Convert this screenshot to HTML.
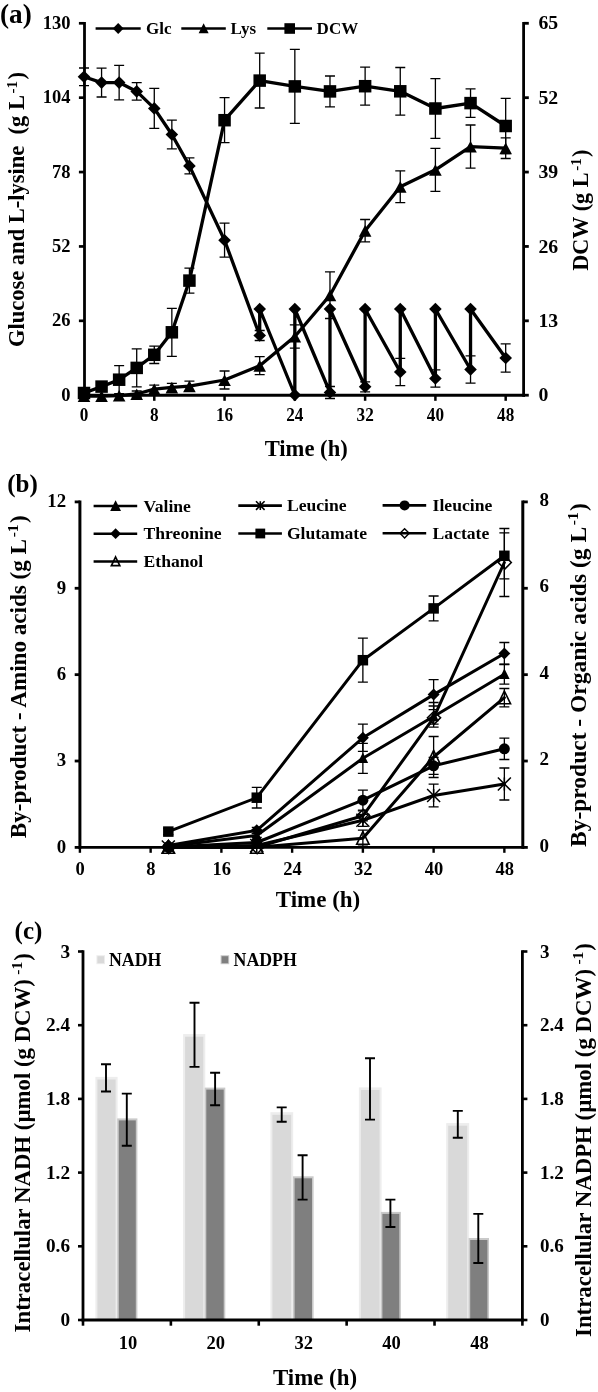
<!DOCTYPE html>
<html><head><meta charset="utf-8"><title>Figure</title>
<style>html,body{margin:0;padding:0;background:#fff;}svg{display:block;will-change:transform;}text{font-family:"Liberation Serif",serif;font-weight:bold;fill:#000;}</style>
</head><body>
<svg width="598" height="1392" viewBox="0 0 598 1392">
<rect width="598" height="1392" fill="#fff"/>
<g id="panelA">
<path d="M84.00 68.00V85.60M79.00 68.00H89.00M79.00 85.60H89.00" stroke="#000" stroke-width="1.3" fill="none"/>
<path d="M101.57 68.20V97.00M96.57 68.20H106.57M96.57 97.00H106.57" stroke="#000" stroke-width="1.3" fill="none"/>
<path d="M119.14 65.30V99.90M114.14 65.30H124.14M114.14 99.90H124.14" stroke="#000" stroke-width="1.3" fill="none"/>
<path d="M136.71 82.60V100.20M131.71 82.60H141.71M131.71 100.20H141.71" stroke="#000" stroke-width="1.3" fill="none"/>
<path d="M154.28 88.40V128.40M149.28 88.40H159.28M149.28 128.40H159.28" stroke="#000" stroke-width="1.3" fill="none"/>
<path d="M171.85 120.10V148.90M166.85 120.10H176.85M166.85 148.90H176.85" stroke="#000" stroke-width="1.3" fill="none"/>
<path d="M189.42 157.90V173.90M184.42 157.90H194.42M184.42 173.90H194.42" stroke="#000" stroke-width="1.3" fill="none"/>
<path d="M224.56 223.20V257.20M219.56 223.20H229.56M219.56 257.20H229.56" stroke="#000" stroke-width="1.3" fill="none"/>
<path d="M259.70 330.50V340.50M254.70 330.50H264.70M254.70 340.50H264.70" stroke="#000" stroke-width="1.3" fill="none"/>
<path d="M329.98 386.50V398.50M324.98 386.50H334.98M324.98 398.50H334.98" stroke="#000" stroke-width="1.3" fill="none"/>
<path d="M365.12 381.80V391.80M360.12 381.80H370.12M360.12 391.80H370.12" stroke="#000" stroke-width="1.3" fill="none"/>
<path d="M400.26 358.30V385.70M395.26 358.30H405.26M395.26 385.70H405.26" stroke="#000" stroke-width="1.3" fill="none"/>
<path d="M435.40 369.80V387.20M430.40 369.80H440.40M430.40 387.20H440.40" stroke="#000" stroke-width="1.3" fill="none"/>
<path d="M470.54 355.80V383.20M465.54 355.80H475.54M465.54 383.20H475.54" stroke="#000" stroke-width="1.3" fill="none"/>
<path d="M505.68 343.80V372.20M500.68 343.80H510.68M500.68 372.20H510.68" stroke="#000" stroke-width="1.3" fill="none"/>
<path d="M101.57 382.60V390.60M96.57 382.60H106.57M96.57 390.60H106.57" stroke="#000" stroke-width="1.3" fill="none"/>
<path d="M119.14 365.70V393.70M114.14 365.70H124.14M114.14 393.70H124.14" stroke="#000" stroke-width="1.3" fill="none"/>
<path d="M136.71 348.90V386.90M131.71 348.90H141.71M131.71 386.90H141.71" stroke="#000" stroke-width="1.3" fill="none"/>
<path d="M154.28 346.10V363.50M149.28 346.10H159.28M149.28 363.50H159.28" stroke="#000" stroke-width="1.3" fill="none"/>
<path d="M171.85 308.30V356.30M166.85 308.30H176.85M166.85 356.30H176.85" stroke="#000" stroke-width="1.3" fill="none"/>
<path d="M189.42 268.10V293.10M184.42 268.10H194.42M184.42 293.10H194.42" stroke="#000" stroke-width="1.3" fill="none"/>
<path d="M224.56 97.70V142.70M219.56 97.70H229.56M219.56 142.70H229.56" stroke="#000" stroke-width="1.3" fill="none"/>
<path d="M259.70 53.20V108.00M254.70 53.20H264.70M254.70 108.00H264.70" stroke="#000" stroke-width="1.3" fill="none"/>
<path d="M294.84 49.40V123.40M289.84 49.40H299.84M289.84 123.40H299.84" stroke="#000" stroke-width="1.3" fill="none"/>
<path d="M329.98 76.00V106.80M324.98 76.00H334.98M324.98 106.80H334.98" stroke="#000" stroke-width="1.3" fill="none"/>
<path d="M365.12 67.20V105.20M360.12 67.20H370.12M360.12 105.20H370.12" stroke="#000" stroke-width="1.3" fill="none"/>
<path d="M400.26 67.50V115.10M395.26 67.50H405.26M395.26 115.10H405.26" stroke="#000" stroke-width="1.3" fill="none"/>
<path d="M435.40 78.60V138.40M430.40 78.60H440.40M430.40 138.40H440.40" stroke="#000" stroke-width="1.3" fill="none"/>
<path d="M470.54 88.80V117.40M465.54 88.80H475.54M465.54 117.40H475.54" stroke="#000" stroke-width="1.3" fill="none"/>
<path d="M505.68 98.40V153.60M500.68 98.40H510.68M500.68 153.60H510.68" stroke="#000" stroke-width="1.3" fill="none"/>
<path d="M136.71 391.00V397.00M131.71 391.00H141.71M131.71 397.00H141.71" stroke="#000" stroke-width="1.3" fill="none"/>
<path d="M154.28 385.20V393.20M149.28 385.20H159.28M149.28 393.20H159.28" stroke="#000" stroke-width="1.3" fill="none"/>
<path d="M171.85 383.40V391.40M166.85 383.40H176.85M166.85 391.40H176.85" stroke="#000" stroke-width="1.3" fill="none"/>
<path d="M189.42 381.20V391.20M184.42 381.20H194.42M184.42 391.20H194.42" stroke="#000" stroke-width="1.3" fill="none"/>
<path d="M224.56 371.00V389.00M219.56 371.00H229.56M219.56 389.00H229.56" stroke="#000" stroke-width="1.3" fill="none"/>
<path d="M259.70 356.70V374.70M254.70 356.70H264.70M254.70 374.70H264.70" stroke="#000" stroke-width="1.3" fill="none"/>
<path d="M294.84 324.90V348.10M289.84 324.90H299.84M289.84 348.10H299.84" stroke="#000" stroke-width="1.3" fill="none"/>
<path d="M329.98 271.90V318.50M324.98 271.90H334.98M324.98 318.50H334.98" stroke="#000" stroke-width="1.3" fill="none"/>
<path d="M365.12 219.50V241.90M360.12 219.50H370.12M360.12 241.90H370.12" stroke="#000" stroke-width="1.3" fill="none"/>
<path d="M400.26 170.80V202.60M395.26 170.80H405.26M395.26 202.60H405.26" stroke="#000" stroke-width="1.3" fill="none"/>
<path d="M435.40 148.30V191.30M430.40 148.30H440.40M430.40 191.30H440.40" stroke="#000" stroke-width="1.3" fill="none"/>
<path d="M470.54 125.00V168.20M465.54 125.00H475.54M465.54 168.20H475.54" stroke="#000" stroke-width="1.3" fill="none"/>
<path d="M505.68 137.90V158.50M500.68 137.90H510.68M500.68 158.50H510.68" stroke="#000" stroke-width="1.3" fill="none"/>
<polyline points="84.00,76.80 101.57,82.60 119.14,82.60 136.71,91.40 154.28,108.40 171.85,134.50 189.42,165.90 224.56,240.20 259.70,335.50 259.70,309.00 294.84,395.00 294.84,309.00 329.98,392.50 329.98,309.00 365.12,386.80 365.12,309.00 400.26,372.00 400.26,309.00 435.40,378.50 435.40,309.00 470.54,369.50 470.54,309.00 505.68,358.00" fill="none" stroke="#000" stroke-width="3.3" stroke-linejoin="round" stroke-linecap="round"/>
<polyline points="84.00,393.00 101.57,386.60 119.14,379.70 136.71,367.90 154.28,354.80 171.85,332.30 189.42,280.60 224.56,120.20 259.70,80.60 294.84,86.40 329.98,91.40 365.12,86.20 400.26,91.30 435.40,108.50 470.54,103.10 505.68,126.00" fill="none" stroke="#000" stroke-width="3.3" stroke-linejoin="round" stroke-linecap="round"/>
<polyline points="84.00,396.00 101.57,396.00 119.14,395.60 136.71,394.00 154.28,389.20 171.85,387.40 189.42,386.20 224.56,380.00 259.70,365.70 294.84,336.50 329.98,295.20 365.12,230.70 400.26,186.70 435.40,169.80 470.54,146.60 505.68,148.20" fill="none" stroke="#000" stroke-width="3.3" stroke-linejoin="round" stroke-linecap="round"/>
<path d="M84.00 70.50L90.30 76.80L84.00 83.10L77.70 76.80Z" fill="#000"/>
<path d="M101.57 76.30L107.87 82.60L101.57 88.90L95.27 82.60Z" fill="#000"/>
<path d="M119.14 76.30L125.44 82.60L119.14 88.90L112.84 82.60Z" fill="#000"/>
<path d="M136.71 85.10L143.01 91.40L136.71 97.70L130.41 91.40Z" fill="#000"/>
<path d="M154.28 102.10L160.58 108.40L154.28 114.70L147.98 108.40Z" fill="#000"/>
<path d="M171.85 128.20L178.15 134.50L171.85 140.80L165.55 134.50Z" fill="#000"/>
<path d="M189.42 159.60L195.72 165.90L189.42 172.20L183.12 165.90Z" fill="#000"/>
<path d="M224.56 233.90L230.86 240.20L224.56 246.50L218.26 240.20Z" fill="#000"/>
<path d="M259.70 329.20L266.00 335.50L259.70 341.80L253.40 335.50Z" fill="#000"/>
<path d="M259.70 302.70L266.00 309.00L259.70 315.30L253.40 309.00Z" fill="#000"/>
<path d="M294.84 388.70L301.14 395.00L294.84 401.30L288.54 395.00Z" fill="#000"/>
<path d="M294.84 302.70L301.14 309.00L294.84 315.30L288.54 309.00Z" fill="#000"/>
<path d="M329.98 386.20L336.28 392.50L329.98 398.80L323.68 392.50Z" fill="#000"/>
<path d="M329.98 302.70L336.28 309.00L329.98 315.30L323.68 309.00Z" fill="#000"/>
<path d="M365.12 380.50L371.42 386.80L365.12 393.10L358.82 386.80Z" fill="#000"/>
<path d="M365.12 302.70L371.42 309.00L365.12 315.30L358.82 309.00Z" fill="#000"/>
<path d="M400.26 365.70L406.56 372.00L400.26 378.30L393.96 372.00Z" fill="#000"/>
<path d="M400.26 302.70L406.56 309.00L400.26 315.30L393.96 309.00Z" fill="#000"/>
<path d="M435.40 372.20L441.70 378.50L435.40 384.80L429.10 378.50Z" fill="#000"/>
<path d="M435.40 302.70L441.70 309.00L435.40 315.30L429.10 309.00Z" fill="#000"/>
<path d="M470.54 363.20L476.84 369.50L470.54 375.80L464.24 369.50Z" fill="#000"/>
<path d="M470.54 302.70L476.84 309.00L470.54 315.30L464.24 309.00Z" fill="#000"/>
<path d="M505.68 351.70L511.98 358.00L505.68 364.30L499.38 358.00Z" fill="#000"/>
<rect x="77.75" y="386.75" width="12.5" height="12.5" fill="#000"/>
<rect x="95.32" y="380.35" width="12.5" height="12.5" fill="#000"/>
<rect x="112.89" y="373.45" width="12.5" height="12.5" fill="#000"/>
<rect x="130.46" y="361.65" width="12.5" height="12.5" fill="#000"/>
<rect x="148.03" y="348.55" width="12.5" height="12.5" fill="#000"/>
<rect x="165.60" y="326.05" width="12.5" height="12.5" fill="#000"/>
<rect x="183.17" y="274.35" width="12.5" height="12.5" fill="#000"/>
<rect x="218.31" y="113.95" width="12.5" height="12.5" fill="#000"/>
<rect x="253.45" y="74.35" width="12.5" height="12.5" fill="#000"/>
<rect x="288.59" y="80.15" width="12.5" height="12.5" fill="#000"/>
<rect x="323.73" y="85.15" width="12.5" height="12.5" fill="#000"/>
<rect x="358.87" y="79.95" width="12.5" height="12.5" fill="#000"/>
<rect x="394.01" y="85.05" width="12.5" height="12.5" fill="#000"/>
<rect x="429.15" y="102.25" width="12.5" height="12.5" fill="#000"/>
<rect x="464.29" y="96.85" width="12.5" height="12.5" fill="#000"/>
<rect x="499.43" y="119.75" width="12.5" height="12.5" fill="#000"/>
<path d="M84.00 390.40L90.30 402.00L77.70 402.00Z" fill="#000"/>
<path d="M101.57 390.40L107.87 402.00L95.27 402.00Z" fill="#000"/>
<path d="M119.14 390.00L125.44 401.60L112.84 401.60Z" fill="#000"/>
<path d="M136.71 388.40L143.01 400.00L130.41 400.00Z" fill="#000"/>
<path d="M154.28 383.60L160.58 395.20L147.98 395.20Z" fill="#000"/>
<path d="M171.85 381.80L178.15 393.40L165.55 393.40Z" fill="#000"/>
<path d="M189.42 380.60L195.72 392.20L183.12 392.20Z" fill="#000"/>
<path d="M224.56 374.40L230.86 386.00L218.26 386.00Z" fill="#000"/>
<path d="M259.70 360.10L266.00 371.70L253.40 371.70Z" fill="#000"/>
<path d="M294.84 330.90L301.14 342.50L288.54 342.50Z" fill="#000"/>
<path d="M329.98 289.60L336.28 301.20L323.68 301.20Z" fill="#000"/>
<path d="M365.12 225.10L371.42 236.70L358.82 236.70Z" fill="#000"/>
<path d="M400.26 181.10L406.56 192.70L393.96 192.70Z" fill="#000"/>
<path d="M435.40 164.20L441.70 175.80L429.10 175.80Z" fill="#000"/>
<path d="M470.54 141.00L476.84 152.60L464.24 152.60Z" fill="#000"/>
<path d="M505.68 142.60L511.98 154.20L499.38 154.20Z" fill="#000"/>
<line x1="84.50" y1="22.05" x2="84.50" y2="396.70" stroke="#000" stroke-width="2.8" stroke-linecap="butt"/>
<line x1="523.60" y1="22.05" x2="523.60" y2="396.70" stroke="#000" stroke-width="2.8" stroke-linecap="butt"/>
<line x1="83.10" y1="395.20" x2="525.00" y2="395.20" stroke="#000" stroke-width="3" stroke-linecap="butt"/>
<line x1="78.90" y1="23.30" x2="84.50" y2="23.30" stroke="#000" stroke-width="2.7" stroke-linecap="butt"/>
<line x1="523.60" y1="23.30" x2="528.80" y2="23.30" stroke="#000" stroke-width="2.8" stroke-linecap="butt"/>
<text transform="translate(70.60 28.90) scale(1.0 1)" font-size="18.5" text-anchor="end">130</text>
<text transform="translate(538.40 29.40) scale(1.07 1)" font-size="18.5" text-anchor="start">65</text>
<line x1="78.90" y1="97.68" x2="84.50" y2="97.68" stroke="#000" stroke-width="2.7" stroke-linecap="butt"/>
<line x1="523.60" y1="97.68" x2="528.80" y2="97.68" stroke="#000" stroke-width="2.8" stroke-linecap="butt"/>
<text transform="translate(70.60 103.28) scale(1.0 1)" font-size="18.5" text-anchor="end">104</text>
<text transform="translate(538.40 103.78) scale(1.07 1)" font-size="18.5" text-anchor="start">52</text>
<line x1="78.90" y1="172.06" x2="84.50" y2="172.06" stroke="#000" stroke-width="2.7" stroke-linecap="butt"/>
<line x1="523.60" y1="172.06" x2="528.80" y2="172.06" stroke="#000" stroke-width="2.8" stroke-linecap="butt"/>
<text transform="translate(70.60 177.66) scale(1.0 1)" font-size="18.5" text-anchor="end">78</text>
<text transform="translate(538.40 178.16) scale(1.07 1)" font-size="18.5" text-anchor="start">39</text>
<line x1="78.90" y1="246.44" x2="84.50" y2="246.44" stroke="#000" stroke-width="2.7" stroke-linecap="butt"/>
<line x1="523.60" y1="246.44" x2="528.80" y2="246.44" stroke="#000" stroke-width="2.8" stroke-linecap="butt"/>
<text transform="translate(70.60 252.04) scale(1.0 1)" font-size="18.5" text-anchor="end">52</text>
<text transform="translate(538.40 252.54) scale(1.07 1)" font-size="18.5" text-anchor="start">26</text>
<line x1="78.90" y1="320.82" x2="84.50" y2="320.82" stroke="#000" stroke-width="2.7" stroke-linecap="butt"/>
<line x1="523.60" y1="320.82" x2="528.80" y2="320.82" stroke="#000" stroke-width="2.8" stroke-linecap="butt"/>
<text transform="translate(70.60 326.42) scale(1.0 1)" font-size="18.5" text-anchor="end">26</text>
<text transform="translate(538.40 326.92) scale(1.07 1)" font-size="18.5" text-anchor="start">13</text>
<line x1="78.90" y1="395.20" x2="84.50" y2="395.20" stroke="#000" stroke-width="2.7" stroke-linecap="butt"/>
<line x1="523.60" y1="395.20" x2="528.80" y2="395.20" stroke="#000" stroke-width="2.8" stroke-linecap="butt"/>
<text transform="translate(70.60 400.80) scale(1.0 1)" font-size="18.5" text-anchor="end">0</text>
<text transform="translate(538.40 401.30) scale(1.07 1)" font-size="18.5" text-anchor="start">0</text>
<line x1="84.00" y1="395.20" x2="84.00" y2="400.80" stroke="#000" stroke-width="2.5" stroke-linecap="butt"/>
<text transform="translate(84.00 421.30) scale(0.93 1)" font-size="18.5" text-anchor="middle">0</text>
<line x1="154.28" y1="395.20" x2="154.28" y2="400.80" stroke="#000" stroke-width="2.5" stroke-linecap="butt"/>
<text transform="translate(154.28 421.30) scale(0.93 1)" font-size="18.5" text-anchor="middle">8</text>
<line x1="224.56" y1="395.20" x2="224.56" y2="400.80" stroke="#000" stroke-width="2.5" stroke-linecap="butt"/>
<text transform="translate(224.56 421.30) scale(0.93 1)" font-size="18.5" text-anchor="middle">16</text>
<line x1="294.84" y1="395.20" x2="294.84" y2="400.80" stroke="#000" stroke-width="2.5" stroke-linecap="butt"/>
<text transform="translate(294.84 421.30) scale(0.93 1)" font-size="18.5" text-anchor="middle">24</text>
<line x1="365.12" y1="395.20" x2="365.12" y2="400.80" stroke="#000" stroke-width="2.5" stroke-linecap="butt"/>
<text transform="translate(365.12 421.30) scale(0.93 1)" font-size="18.5" text-anchor="middle">32</text>
<line x1="435.40" y1="395.20" x2="435.40" y2="400.80" stroke="#000" stroke-width="2.5" stroke-linecap="butt"/>
<text transform="translate(435.40 421.30) scale(0.93 1)" font-size="18.5" text-anchor="middle">40</text>
<line x1="505.68" y1="395.20" x2="505.68" y2="400.80" stroke="#000" stroke-width="2.5" stroke-linecap="butt"/>
<text transform="translate(505.68 421.30) scale(0.93 1)" font-size="18.5" text-anchor="middle">48</text>
<text transform="translate(306.20 456.20) scale(1.0 1)" font-size="22.6" text-anchor="middle">Time (h)</text>
<text transform="translate(24.40 347.00) rotate(-90) scale(1.0 1)" font-size="22.5" text-anchor="start">Glucose and L-lysine&#160;&#160;(g L<tspan font-size="15" dx="1.7" dy="-7.5">-1</tspan><tspan dx="1.3" dy="7.5">)</tspan></text>
<text transform="translate(588.20 270.70) rotate(-90) scale(1.0 1)" font-size="22.2" text-anchor="start">DCW (g L<tspan font-size="15" dx="1.7" dy="-7.5">-1</tspan><tspan dx="1.3" dy="7.5">)</tspan></text>
<text transform="translate(0.00 23.40) scale(1.0 1)" font-size="27.2" text-anchor="start">(a)</text>
<line x1="95.60" y1="28.50" x2="140.70" y2="28.50" stroke="#000" stroke-width="2.4" stroke-linecap="butt"/>
<path d="M118.20 23.10L123.60 28.50L118.20 33.90L112.80 28.50Z" fill="#000"/>
<text transform="translate(146.00 33.70) scale(1.0 1)" font-size="17" text-anchor="start">Glc</text>
<line x1="181.30" y1="28.50" x2="225.80" y2="28.50" stroke="#000" stroke-width="2.4" stroke-linecap="butt"/>
<path d="M203.60 23.20L208.60 33.20L198.60 33.20Z" fill="#000"/>
<text transform="translate(230.50 33.70) scale(1.0 1)" font-size="17" text-anchor="start">Lys</text>
<line x1="267.30" y1="28.50" x2="312.00" y2="28.50" stroke="#000" stroke-width="2.4" stroke-linecap="butt"/>
<rect x="284.40" y="23.20" width="10.6" height="10.6" fill="#000"/>
<text transform="translate(316.60 33.70) scale(1.0 1)" font-size="17" text-anchor="start">DCW</text>
</g>
<g id="panelB">
<path d="M168.33 828.60V834.60M163.33 828.60H173.33M163.33 834.60H173.33" stroke="#000" stroke-width="1.3" fill="none"/>
<path d="M256.76 787.40V808.00M251.76 787.40H261.76M251.76 808.00H261.76" stroke="#000" stroke-width="1.3" fill="none"/>
<path d="M362.88 638.20V682.20M357.88 638.20H367.88M357.88 682.20H367.88" stroke="#000" stroke-width="1.3" fill="none"/>
<path d="M433.62 596.00V620.80M428.62 596.00H438.62M428.62 620.80H438.62" stroke="#000" stroke-width="1.3" fill="none"/>
<path d="M504.36 532.80V578.80M499.36 532.80H509.36M499.36 578.80H509.36" stroke="#000" stroke-width="1.3" fill="none"/>
<path d="M256.76 827.30V833.30M251.76 827.30H261.76M251.76 833.30H261.76" stroke="#000" stroke-width="1.3" fill="none"/>
<path d="M362.88 724.20V751.40M357.88 724.20H367.88M357.88 751.40H367.88" stroke="#000" stroke-width="1.3" fill="none"/>
<path d="M433.62 679.60V709.60M428.62 679.60H438.62M428.62 709.60H438.62" stroke="#000" stroke-width="1.3" fill="none"/>
<path d="M504.36 642.50V664.50M499.36 642.50H509.36M499.36 664.50H509.36" stroke="#000" stroke-width="1.3" fill="none"/>
<path d="M256.76 833.50V837.50M251.76 833.50H261.76M251.76 837.50H261.76" stroke="#000" stroke-width="1.3" fill="none"/>
<path d="M362.88 743.30V773.30M357.88 743.30H367.88M357.88 773.30H367.88" stroke="#000" stroke-width="1.3" fill="none"/>
<path d="M504.36 664.20V684.20M499.36 664.20H509.36M499.36 684.20H509.36" stroke="#000" stroke-width="1.3" fill="none"/>
<path d="M362.88 790.20V810.20M357.88 790.20H367.88M357.88 810.20H367.88" stroke="#000" stroke-width="1.3" fill="none"/>
<path d="M433.62 757.30V774.30M428.62 757.30H438.62M428.62 774.30H438.62" stroke="#000" stroke-width="1.3" fill="none"/>
<path d="M504.36 738.10V759.50M499.36 738.10H509.36M499.36 759.50H509.36" stroke="#000" stroke-width="1.3" fill="none"/>
<path d="M362.88 814.30V826.30M357.88 814.30H367.88M357.88 826.30H367.88" stroke="#000" stroke-width="1.3" fill="none"/>
<path d="M433.62 784.10V806.90M428.62 784.10H438.62M428.62 806.90H438.62" stroke="#000" stroke-width="1.3" fill="none"/>
<path d="M504.36 768.00V800.00M499.36 768.00H509.36M499.36 800.00H509.36" stroke="#000" stroke-width="1.3" fill="none"/>
<path d="M362.88 810.80V820.80M357.88 810.80H367.88M357.88 820.80H367.88" stroke="#000" stroke-width="1.3" fill="none"/>
<path d="M504.36 528.50V596.50M499.36 528.50H509.36M499.36 596.50H509.36" stroke="#000" stroke-width="1.3" fill="none"/>
<path d="M362.88 830.20V846.20M357.88 830.20H367.88M357.88 846.20H367.88" stroke="#000" stroke-width="1.3" fill="none"/>
<path d="M433.62 736.50V777.50M428.62 736.50H438.62M428.62 777.50H438.62" stroke="#000" stroke-width="1.3" fill="none"/>
<path d="M504.36 688.50V706.90M499.36 688.50H509.36M499.36 706.90H509.36" stroke="#000" stroke-width="1.3" fill="none"/>
<path d="M433.62 706.00V724.10M428.62 706.00H438.62M428.62 724.10H438.62" stroke="#000" stroke-width="1.3" fill="none"/>
<path d="M433.62 702.50V727.10M428.62 702.50H438.62M428.62 727.10H438.62" stroke="#000" stroke-width="1.3" fill="none"/>
<polyline points="168.33,831.60 256.76,797.70 362.88,660.20 433.62,608.40 504.36,555.80" fill="none" stroke="#000" stroke-width="3.0" stroke-linejoin="round" stroke-linecap="round"/>
<polyline points="168.33,845.50 256.76,830.30 362.88,737.80 433.62,694.60 504.36,653.50" fill="none" stroke="#000" stroke-width="3.0" stroke-linejoin="round" stroke-linecap="round"/>
<polyline points="168.33,846.50 256.76,835.50 362.88,758.30 433.62,716.50 504.36,674.20" fill="none" stroke="#000" stroke-width="3.0" stroke-linejoin="round" stroke-linecap="round"/>
<polyline points="168.33,847.00 256.76,842.50 362.88,800.20 433.62,765.80 504.36,748.80" fill="none" stroke="#000" stroke-width="3.0" stroke-linejoin="round" stroke-linecap="round"/>
<polyline points="168.33,847.00 256.76,845.50 362.88,820.30 433.62,795.50 504.36,784.00" fill="none" stroke="#000" stroke-width="3.0" stroke-linejoin="round" stroke-linecap="round"/>
<polyline points="168.33,847.20 256.76,847.20 362.88,815.80 433.62,717.80 504.36,562.50" fill="none" stroke="#000" stroke-width="3.0" stroke-linejoin="round" stroke-linecap="round"/>
<polyline points="168.33,847.20 256.76,847.20 362.88,838.20 433.62,757.00 504.36,697.70" fill="none" stroke="#000" stroke-width="3.0" stroke-linejoin="round" stroke-linecap="round"/>
<path d="M161.83 840.50L174.83 853.50M161.83 853.50L174.83 840.50M168.33 840.50V853.50" stroke="#000" stroke-width="1.5" fill="none"/>
<path d="M250.26 839.00L263.26 852.00M250.26 852.00L263.26 839.00M256.76 839.00V852.00" stroke="#000" stroke-width="1.5" fill="none"/>
<path d="M356.38 813.80L369.38 826.80M356.38 826.80L369.38 813.80M362.88 813.80V826.80" stroke="#000" stroke-width="1.5" fill="none"/>
<path d="M427.12 789.00L440.12 802.00M427.12 802.00L440.12 789.00M433.62 789.00V802.00" stroke="#000" stroke-width="1.5" fill="none"/>
<path d="M497.86 777.50L510.86 790.50M497.86 790.50L510.86 777.50M504.36 777.50V790.50" stroke="#000" stroke-width="1.5" fill="none"/>
<circle cx="168.33" cy="847.00" r="5.5" fill="#000"/>
<circle cx="256.76" cy="842.50" r="5.5" fill="#000"/>
<circle cx="362.88" cy="800.20" r="5.5" fill="#000"/>
<circle cx="433.62" cy="765.80" r="5.5" fill="#000"/>
<circle cx="504.36" cy="748.80" r="5.5" fill="#000"/>
<path d="M168.33 840.75L173.58 851.25L163.08 851.25Z" fill="#000"/>
<path d="M256.76 829.75L262.01 840.25L251.51 840.25Z" fill="#000"/>
<path d="M362.88 752.55L368.13 763.05L357.63 763.05Z" fill="#000"/>
<path d="M433.62 710.75L438.87 721.25L428.37 721.25Z" fill="#000"/>
<path d="M504.36 668.45L509.61 678.95L499.11 678.95Z" fill="#000"/>
<path d="M168.33 839.50L174.33 845.50L168.33 851.50L162.33 845.50Z" fill="#000"/>
<path d="M256.76 824.30L262.76 830.30L256.76 836.30L250.76 830.30Z" fill="#000"/>
<path d="M362.88 731.80L368.88 737.80L362.88 743.80L356.88 737.80Z" fill="#000"/>
<path d="M433.62 688.60L439.62 694.60L433.62 700.60L427.62 694.60Z" fill="#000"/>
<path d="M504.36 647.50L510.36 653.50L504.36 659.50L498.36 653.50Z" fill="#000"/>
<rect x="163.08" y="826.35" width="10.5" height="10.5" fill="#000"/>
<rect x="251.51" y="792.45" width="10.5" height="10.5" fill="#000"/>
<rect x="357.63" y="654.95" width="10.5" height="10.5" fill="#000"/>
<rect x="428.37" y="603.15" width="10.5" height="10.5" fill="#000"/>
<rect x="499.11" y="550.55" width="10.5" height="10.5" fill="#000"/>
<path d="M168.73 840.70L175.23 847.20L168.73 853.70L162.23 847.20Z" fill="none" stroke="#000" stroke-width="1.6"/>
<path d="M257.16 840.70L263.66 847.20L257.16 853.70L250.66 847.20Z" fill="none" stroke="#000" stroke-width="1.6"/>
<path d="M363.28 809.30L369.78 815.80L363.28 822.30L356.78 815.80Z" fill="none" stroke="#000" stroke-width="1.6"/>
<path d="M434.02 711.30L440.52 717.80L434.02 724.30L427.52 717.80Z" fill="none" stroke="#000" stroke-width="1.6"/>
<path d="M504.76 556.00L511.26 562.50L504.76 569.00L498.26 562.50Z" fill="none" stroke="#000" stroke-width="1.6"/>
<path d="M168.33 840.50L174.53 853.30L162.13 853.30Z" fill="none" stroke="#000" stroke-width="1.6" stroke-linejoin="miter"/>
<path d="M256.76 840.50L262.96 853.30L250.56 853.30Z" fill="none" stroke="#000" stroke-width="1.6" stroke-linejoin="miter"/>
<path d="M362.88 831.50L369.08 844.30L356.68 844.30Z" fill="none" stroke="#000" stroke-width="1.6" stroke-linejoin="miter"/>
<path d="M433.62 750.30L439.82 763.10L427.42 763.10Z" fill="none" stroke="#000" stroke-width="1.6" stroke-linejoin="miter"/>
<path d="M504.36 691.00L510.56 703.80L498.16 703.80Z" fill="none" stroke="#000" stroke-width="1.6" stroke-linejoin="miter"/>
<line x1="79.90" y1="500.50" x2="79.90" y2="848.70" stroke="#000" stroke-width="3.0" stroke-linecap="butt"/>
<line x1="522.80" y1="500.50" x2="522.80" y2="848.70" stroke="#000" stroke-width="3.0" stroke-linecap="butt"/>
<line x1="78.40" y1="847.40" x2="524.30" y2="847.40" stroke="#000" stroke-width="2.6" stroke-linecap="butt"/>
<line x1="74.70" y1="501.90" x2="79.90" y2="501.90" stroke="#000" stroke-width="2.8" stroke-linecap="butt"/>
<text transform="translate(66.20 507.20) scale(1.02 1)" font-size="18.5" text-anchor="end">12</text>
<line x1="74.70" y1="588.27" x2="79.90" y2="588.27" stroke="#000" stroke-width="2.8" stroke-linecap="butt"/>
<text transform="translate(66.20 593.57) scale(1.02 1)" font-size="18.5" text-anchor="end">9</text>
<line x1="74.70" y1="674.65" x2="79.90" y2="674.65" stroke="#000" stroke-width="2.8" stroke-linecap="butt"/>
<text transform="translate(66.20 679.95) scale(1.02 1)" font-size="18.5" text-anchor="end">6</text>
<line x1="74.70" y1="761.02" x2="79.90" y2="761.02" stroke="#000" stroke-width="2.8" stroke-linecap="butt"/>
<text transform="translate(66.20 766.32) scale(1.02 1)" font-size="18.5" text-anchor="end">3</text>
<line x1="74.70" y1="847.40" x2="79.90" y2="847.40" stroke="#000" stroke-width="2.8" stroke-linecap="butt"/>
<text transform="translate(66.20 852.70) scale(1.02 1)" font-size="18.5" text-anchor="end">0</text>
<line x1="522.80" y1="501.90" x2="527.80" y2="501.90" stroke="#000" stroke-width="2.8" stroke-linecap="butt"/>
<text transform="translate(539.60 506.10) scale(1.03 1)" font-size="18.5" text-anchor="start">8</text>
<line x1="522.80" y1="588.27" x2="527.80" y2="588.27" stroke="#000" stroke-width="2.8" stroke-linecap="butt"/>
<text transform="translate(539.60 592.48) scale(1.03 1)" font-size="18.5" text-anchor="start">6</text>
<line x1="522.80" y1="674.65" x2="527.80" y2="674.65" stroke="#000" stroke-width="2.8" stroke-linecap="butt"/>
<text transform="translate(539.60 678.85) scale(1.03 1)" font-size="18.5" text-anchor="start">4</text>
<line x1="522.80" y1="761.02" x2="527.80" y2="761.02" stroke="#000" stroke-width="2.8" stroke-linecap="butt"/>
<text transform="translate(539.60 765.23) scale(1.03 1)" font-size="18.5" text-anchor="start">2</text>
<line x1="522.80" y1="847.40" x2="527.80" y2="847.40" stroke="#000" stroke-width="2.8" stroke-linecap="butt"/>
<text transform="translate(539.60 851.60) scale(1.03 1)" font-size="18.5" text-anchor="start">0</text>
<line x1="79.90" y1="847.40" x2="79.90" y2="852.80" stroke="#000" stroke-width="2.4" stroke-linecap="butt"/>
<text transform="translate(80.20 874.60) scale(1.0 1)" font-size="18.5" text-anchor="middle">0</text>
<line x1="150.64" y1="847.40" x2="150.64" y2="852.80" stroke="#000" stroke-width="2.4" stroke-linecap="butt"/>
<text transform="translate(150.94 874.60) scale(1.0 1)" font-size="18.5" text-anchor="middle">8</text>
<line x1="221.39" y1="847.40" x2="221.39" y2="852.80" stroke="#000" stroke-width="2.4" stroke-linecap="butt"/>
<text transform="translate(221.69 874.60) scale(1.0 1)" font-size="18.5" text-anchor="middle">16</text>
<line x1="292.13" y1="847.40" x2="292.13" y2="852.80" stroke="#000" stroke-width="2.4" stroke-linecap="butt"/>
<text transform="translate(292.43 874.60) scale(1.0 1)" font-size="18.5" text-anchor="middle">24</text>
<line x1="362.88" y1="847.40" x2="362.88" y2="852.80" stroke="#000" stroke-width="2.4" stroke-linecap="butt"/>
<text transform="translate(363.18 874.60) scale(1.0 1)" font-size="18.5" text-anchor="middle">32</text>
<line x1="433.62" y1="847.40" x2="433.62" y2="852.80" stroke="#000" stroke-width="2.4" stroke-linecap="butt"/>
<text transform="translate(433.92 874.60) scale(1.0 1)" font-size="18.5" text-anchor="middle">40</text>
<line x1="504.36" y1="847.40" x2="504.36" y2="852.80" stroke="#000" stroke-width="2.4" stroke-linecap="butt"/>
<text transform="translate(504.66 874.60) scale(1.0 1)" font-size="18.5" text-anchor="middle">48</text>
<text transform="translate(318.00 907.00) scale(1.0 1)" font-size="23" text-anchor="middle">Time (h)</text>
<text transform="translate(25.60 838.20) rotate(-90) scale(1.0 1)" font-size="23.1" text-anchor="start">By-product - Amino acids (g L<tspan font-size="15.5" dx="1.7" dy="-7.8">-1</tspan><tspan dx="1.3" dy="7.8">)</tspan></text>
<text transform="translate(586.00 847.00) rotate(-90) scale(1.0 1)" font-size="23.5" text-anchor="start">By-product - Organic acids (g L<tspan font-size="15.5" dx="1.7" dy="-7.8">-1</tspan><tspan dx="1.3" dy="7.8">)</tspan></text>
<text transform="translate(7.20 491.50) scale(1.0 1)" font-size="25" text-anchor="start">(b)</text>
<line x1="93.60" y1="506.00" x2="137.20" y2="506.00" stroke="#000" stroke-width="2.6" stroke-linecap="butt"/>
<path d="M115.60 500.30L121.00 510.90L110.20 510.90Z" fill="#000"/>
<text transform="translate(143.60 511.70) scale(1.0 1)" font-size="17.6" text-anchor="start">Valine</text>
<line x1="93.60" y1="533.70" x2="137.20" y2="533.70" stroke="#000" stroke-width="2.6" stroke-linecap="butt"/>
<path d="M115.60 528.30L121.00 533.70L115.60 539.10L110.20 533.70Z" fill="#000"/>
<text transform="translate(143.60 539.40) scale(1.0 1)" font-size="17.6" text-anchor="start">Threonine</text>
<line x1="93.60" y1="561.50" x2="137.20" y2="561.50" stroke="#000" stroke-width="2.6" stroke-linecap="butt"/>
<path d="M115.60 557.00L119.80 565.60L111.40 565.60Z" fill="none" stroke="#000" stroke-width="1.7" stroke-linejoin="miter"/>
<text transform="translate(143.60 567.20) scale(1.0 1)" font-size="17.6" text-anchor="start">Ethanol</text>
<line x1="238.30" y1="505.60" x2="281.90" y2="505.60" stroke="#000" stroke-width="2.6" stroke-linecap="butt"/>
<path d="M256.00 501.30L264.60 509.90M256.00 509.90L264.60 501.30M260.30 501.30V509.90" stroke="#000" stroke-width="1.6" fill="none"/>
<text transform="translate(286.90 511.30) scale(1.0 1)" font-size="17.6" text-anchor="start">Leucine</text>
<line x1="238.30" y1="533.50" x2="281.90" y2="533.50" stroke="#000" stroke-width="2.6" stroke-linecap="butt"/>
<rect x="255.40" y="528.60" width="9.8" height="9.8" fill="#000"/>
<text transform="translate(286.90 539.20) scale(1.0 1)" font-size="17.6" text-anchor="start">Glutamate</text>
<line x1="382.60" y1="505.40" x2="426.20" y2="505.40" stroke="#000" stroke-width="2.6" stroke-linecap="butt"/>
<circle cx="404.60" cy="505.40" r="5.0" fill="#000"/>
<text transform="translate(432.60 511.10) scale(1.0 1)" font-size="17.6" text-anchor="start">Ileucine</text>
<line x1="382.60" y1="533.30" x2="426.20" y2="533.30" stroke="#000" stroke-width="2.6" stroke-linecap="butt"/>
<path d="M404.60 528.70L409.20 533.30L404.60 537.90L400.00 533.30Z" fill="none" stroke="#000" stroke-width="1.4"/>
<text transform="translate(432.60 539.00) scale(1.0 1)" font-size="17.6" text-anchor="start">Lactate</text>
</g>
<g id="panelC">
<rect x="95.4" y="1076.9" width="22.2" height="243.1" fill="#ededed"/>
<rect x="97.4" y="1079.5" width="18.2" height="240.5" fill="#d9d9d9"/>
<rect x="183.1" y="1034.1" width="22.2" height="285.9" fill="#ededed"/>
<rect x="185.1" y="1036.7" width="18.2" height="283.3" fill="#d9d9d9"/>
<rect x="270.4" y="1112.2" width="22.8" height="207.8" fill="#ededed"/>
<rect x="272.4" y="1114.8" width="18.8" height="205.2" fill="#d9d9d9"/>
<rect x="358.9" y="1087.4" width="22.7" height="232.6" fill="#ededed"/>
<rect x="360.9" y="1090.0" width="18.7" height="230.0" fill="#d9d9d9"/>
<rect x="446.2" y="1123.1" width="23.0" height="196.9" fill="#ededed"/>
<rect x="448.2" y="1125.7" width="19.0" height="194.3" fill="#d9d9d9"/>
<rect x="117.2" y="1118.4" width="20.2" height="201.6" fill="#c9c9c9"/>
<rect x="118.8" y="1120.4" width="17.0" height="199.6" fill="#7f7f7f"/>
<rect x="204.7" y="1087.6" width="20.6" height="232.4" fill="#c9c9c9"/>
<rect x="206.3" y="1089.6" width="17.4" height="230.4" fill="#7f7f7f"/>
<rect x="293.0" y="1176.3" width="20.6" height="143.7" fill="#c9c9c9"/>
<rect x="294.6" y="1178.3" width="17.4" height="141.7" fill="#7f7f7f"/>
<rect x="380.8" y="1211.9" width="20.1" height="108.1" fill="#c9c9c9"/>
<rect x="382.4" y="1213.9" width="16.9" height="106.1" fill="#7f7f7f"/>
<rect x="468.6" y="1238.0" width="20.4" height="82.0" fill="#c9c9c9"/>
<rect x="470.2" y="1240.0" width="17.2" height="80.0" fill="#7f7f7f"/>
<path d="M106.00 1064.20V1091.50M101.00 1064.20H111.00M101.00 1091.50H111.00" stroke="#000" stroke-width="1.9" fill="none"/>
<path d="M194.50 1002.70V1066.90M189.50 1002.70H199.50M189.50 1066.90H199.50" stroke="#000" stroke-width="1.9" fill="none"/>
<path d="M281.70 1107.40V1121.70M276.70 1107.40H286.70M276.70 1121.70H286.70" stroke="#000" stroke-width="1.9" fill="none"/>
<path d="M370.00 1058.30V1119.60M365.00 1058.30H375.00M365.00 1119.60H375.00" stroke="#000" stroke-width="1.9" fill="none"/>
<path d="M457.80 1110.90V1137.80M452.80 1110.90H462.80M452.80 1137.80H462.80" stroke="#000" stroke-width="1.9" fill="none"/>
<path d="M126.80 1093.60V1145.80M121.80 1093.60H131.80M121.80 1145.80H131.80" stroke="#000" stroke-width="1.9" fill="none"/>
<path d="M215.10 1072.80V1105.20M210.10 1072.80H220.10M210.10 1105.20H220.10" stroke="#000" stroke-width="1.9" fill="none"/>
<path d="M302.60 1155.20V1199.60M297.60 1155.20H307.60M297.60 1199.60H307.60" stroke="#000" stroke-width="1.9" fill="none"/>
<path d="M390.40 1199.60V1227.00M385.40 1199.60H395.40M385.40 1227.00H395.40" stroke="#000" stroke-width="1.9" fill="none"/>
<path d="M478.30 1213.90V1263.00M473.30 1213.90H483.30M473.30 1263.00H483.30" stroke="#000" stroke-width="1.9" fill="none"/>
<line x1="83.00" y1="950.30" x2="83.00" y2="1321.30" stroke="#000" stroke-width="2.8" stroke-linecap="butt"/>
<line x1="522.40" y1="950.30" x2="522.40" y2="1321.30" stroke="#000" stroke-width="2.8" stroke-linecap="butt"/>
<line x1="81.60" y1="1320.00" x2="523.80" y2="1320.00" stroke="#000" stroke-width="2.8" stroke-linecap="butt"/>
<line x1="78.00" y1="951.50" x2="83.00" y2="951.50" stroke="#000" stroke-width="2.6" stroke-linecap="butt"/>
<line x1="522.40" y1="951.50" x2="527.40" y2="951.50" stroke="#000" stroke-width="2.6" stroke-linecap="butt"/>
<text transform="translate(70.00 957.50) scale(1.04 1)" font-size="18.5" text-anchor="end">3</text>
<text transform="translate(540.00 957.50) scale(1.03 1)" font-size="18.5" text-anchor="start">3</text>
<line x1="78.00" y1="1025.20" x2="83.00" y2="1025.20" stroke="#000" stroke-width="2.6" stroke-linecap="butt"/>
<line x1="522.40" y1="1025.20" x2="527.40" y2="1025.20" stroke="#000" stroke-width="2.6" stroke-linecap="butt"/>
<text transform="translate(70.00 1031.20) scale(1.04 1)" font-size="18.5" text-anchor="end">2.4</text>
<text transform="translate(540.00 1031.20) scale(1.03 1)" font-size="18.5" text-anchor="start">2.4</text>
<line x1="78.00" y1="1098.90" x2="83.00" y2="1098.90" stroke="#000" stroke-width="2.6" stroke-linecap="butt"/>
<line x1="522.40" y1="1098.90" x2="527.40" y2="1098.90" stroke="#000" stroke-width="2.6" stroke-linecap="butt"/>
<text transform="translate(70.00 1104.90) scale(1.04 1)" font-size="18.5" text-anchor="end">1.8</text>
<text transform="translate(540.00 1104.90) scale(1.03 1)" font-size="18.5" text-anchor="start">1.8</text>
<line x1="78.00" y1="1172.60" x2="83.00" y2="1172.60" stroke="#000" stroke-width="2.6" stroke-linecap="butt"/>
<line x1="522.40" y1="1172.60" x2="527.40" y2="1172.60" stroke="#000" stroke-width="2.6" stroke-linecap="butt"/>
<text transform="translate(70.00 1178.60) scale(1.04 1)" font-size="18.5" text-anchor="end">1.2</text>
<text transform="translate(540.00 1178.60) scale(1.03 1)" font-size="18.5" text-anchor="start">1.2</text>
<line x1="78.00" y1="1246.30" x2="83.00" y2="1246.30" stroke="#000" stroke-width="2.6" stroke-linecap="butt"/>
<line x1="522.40" y1="1246.30" x2="527.40" y2="1246.30" stroke="#000" stroke-width="2.6" stroke-linecap="butt"/>
<text transform="translate(70.00 1252.30) scale(1.04 1)" font-size="18.5" text-anchor="end">0.6</text>
<text transform="translate(540.00 1252.30) scale(1.03 1)" font-size="18.5" text-anchor="start">0.6</text>
<line x1="78.00" y1="1320.00" x2="83.00" y2="1320.00" stroke="#000" stroke-width="2.6" stroke-linecap="butt"/>
<line x1="522.40" y1="1320.00" x2="527.40" y2="1320.00" stroke="#000" stroke-width="2.6" stroke-linecap="butt"/>
<text transform="translate(70.00 1326.00) scale(1.04 1)" font-size="18.5" text-anchor="end">0</text>
<text transform="translate(540.00 1326.00) scale(1.03 1)" font-size="18.5" text-anchor="start">0</text>
<line x1="83.00" y1="1320.00" x2="83.00" y2="1325.70" stroke="#000" stroke-width="2.6" stroke-linecap="butt"/>
<line x1="170.88" y1="1320.00" x2="170.88" y2="1325.70" stroke="#000" stroke-width="2.6" stroke-linecap="butt"/>
<line x1="258.76" y1="1320.00" x2="258.76" y2="1325.70" stroke="#000" stroke-width="2.6" stroke-linecap="butt"/>
<line x1="346.64" y1="1320.00" x2="346.64" y2="1325.70" stroke="#000" stroke-width="2.6" stroke-linecap="butt"/>
<line x1="434.52" y1="1320.00" x2="434.52" y2="1325.70" stroke="#000" stroke-width="2.6" stroke-linecap="butt"/>
<line x1="522.40" y1="1320.00" x2="522.40" y2="1325.70" stroke="#000" stroke-width="2.6" stroke-linecap="butt"/>
<text transform="translate(127.94 1348.90) scale(1.0 1)" font-size="18.5" text-anchor="middle">10</text>
<text transform="translate(215.82 1348.90) scale(1.0 1)" font-size="18.5" text-anchor="middle">20</text>
<text transform="translate(303.70 1348.90) scale(1.0 1)" font-size="18.5" text-anchor="middle">32</text>
<text transform="translate(391.58 1348.90) scale(1.0 1)" font-size="18.5" text-anchor="middle">40</text>
<text transform="translate(479.46 1348.90) scale(1.0 1)" font-size="18.5" text-anchor="middle">48</text>
<text transform="translate(315.00 1384.50) scale(1.0 1)" font-size="22.9" text-anchor="middle">Time (h)</text>
<text transform="translate(29.60 1332.40) rotate(-90) scale(1.0 1)" font-size="22.8" text-anchor="start">Intracellular NADH (µmol (g DCW)<tspan font-size="15.5" dx="0.5" dy="-7.8">&#160;-1</tspan><tspan dx="1.0" dy="7.8">)</tspan></text>
<text transform="translate(591.00 1337.00) rotate(-90) scale(1.0 1)" font-size="22.85" text-anchor="start">Intracellular NADPH (µmol (g DCW)<tspan font-size="15.5" dx="0.5" dy="-7.8">&#160;-1</tspan><tspan dx="1.0" dy="7.8">)</tspan></text>
<text transform="translate(14.60 939.00) scale(1.0 1)" font-size="25" text-anchor="start">(c)</text>
<rect x="96.4" y="955.2" width="8.6" height="9" fill="#ededed"/><rect x="97.4" y="956.2" width="6.6" height="7" fill="#d9d9d9"/>
<text transform="translate(109.00 966.20) scale(1.0 1)" font-size="17.8" text-anchor="start">NADH</text>
<rect x="220.6" y="955.2" width="8.6" height="9" fill="#c9c9c9"/><rect x="221.6" y="956.2" width="6.6" height="7" fill="#7f7f7f"/>
<text transform="translate(233.60 966.20) scale(1.0 1)" font-size="17.8" text-anchor="start">NADPH</text>
</g>
</svg></body></html>
